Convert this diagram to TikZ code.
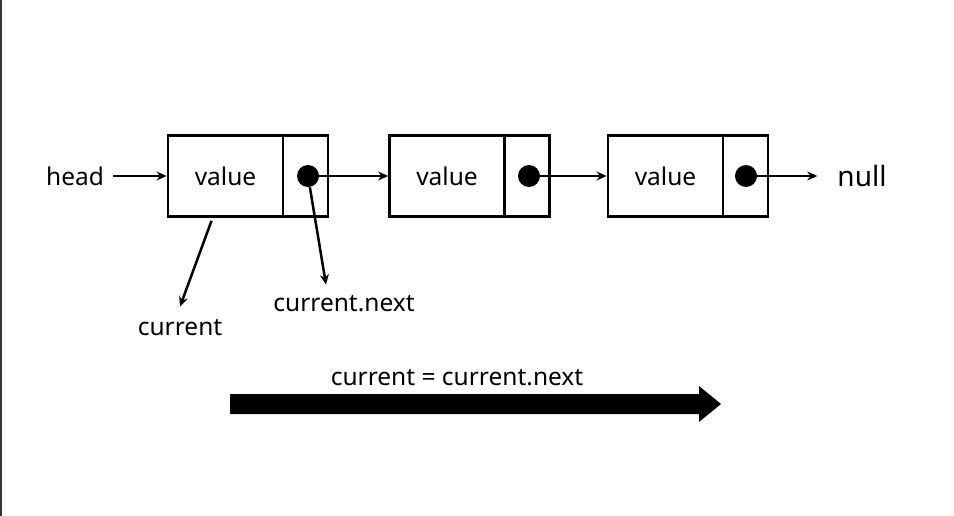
\documentclass[tikz,border=0pt]{standalone}
\usepackage{fontspec}
\setmainfont{Noto Sans}
\usetikzlibrary{arrows.meta}
\begin{document}
\begin{tikzpicture}[x=1pt,y=-1pt,
  cell/.style={draw, line width=2.7pt, minimum height=81pt, inner sep=0pt, font=\fontsize{24.5}{28}\selectfont},
  valcell/.style={cell, minimum width=115pt},
  ptrcell/.style={cell, minimum width=45pt},
  dot/.style={circle, fill=black, minimum size=22pt, inner sep=0pt},
  link/.style={line width=2.5pt, -{Stealth[length=10pt,width=9pt]}},
  lbl/.style={font=\fontsize{24.5}{28}\selectfont, inner sep=0pt},
  biglbl/.style={font=\fontsize{28}{32}\selectfont, inner sep=0pt}]
\useasboundingbox (0,0) rectangle (954,516);
\draw[line width=1.5pt, black!80] (0.75,0) -- (0.75,516);
% nodes of the list
\node[valcell] (v1) at (225.5,176) {value};
\node[ptrcell] (p1) at (305.5,176) {};
\node[valcell] (v2) at (447,176) {value};
\node[ptrcell] (p2) at (527,176) {};
\node[valcell] (v3) at (665.5,176) {value};
\node[ptrcell] (p3) at (745.5,176) {};
\node[dot] (d1) at (308,176) {};
\node[dot] (d2) at (529,176) {};
\node[dot] (d3) at (746,176) {};
% labels
\node[lbl] (head) at (75,176) {head};
\node[biglbl] (null) at (862,176) {null};
\node[lbl] (cur) at (180,328) {current};
\node[lbl] (nxt) at (344,304) {current.next};
\node[lbl] (step) at (457,378) {current = current.next};
% links
\draw[link, shorten <=9pt] (head.east) -- (v1.west);
\draw[link] (d1) -- (v2.west);
\draw[link] (d2) -- (v3.west);
\draw[link, shorten >=20pt] (d3) -- (null.west);
\draw[link] ([shift={(-14pt,-3pt)}]v1.south) -- ([yshift=13pt]cur.north);
\draw[link] (d1) -- ([shift={(-18pt,11pt)}]nxt.north);
% big arrow
\fill (230,394) -- (699,394) -- (699,386) -- (721,404) -- (699,422) -- (699,414) -- (230,414) -- cycle;
\end{tikzpicture}
\end{document}
